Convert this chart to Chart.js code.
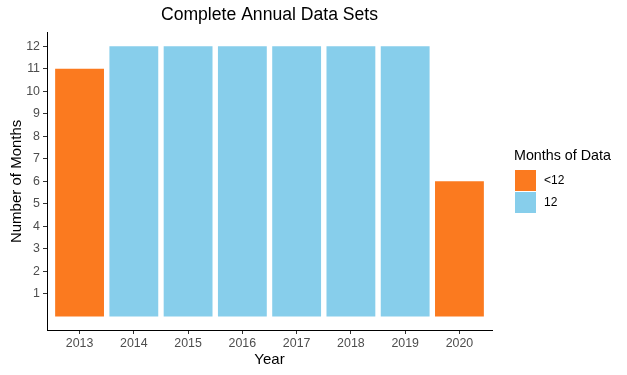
<!DOCTYPE html>
<html>
<head>
<meta charset="utf-8">
<title>Complete Annual Data Sets</title>
<script src="https://cdn.jsdelivr.net/npm/chart.js@4/dist/chart.umd.min.js"></script>
<style>
  body { margin: 0; background: #fff; }
  #wrap { width: 627px; height: 375px; position: relative; }
</style>
</head>
<body>
<div id="wrap"><canvas id="chart"></canvas></div>
<script>
// veriler
const years = ['2013', '2014', '2015', '2016', '2017', '2018', '2019', '2020'];
const months = [11, 12, 12, 12, 12, 12, 12, 6];
const yTicks = [1, 2, 3, 4, 5, 6, 7, 8, 9, 10, 11, 12];
const groups = ['<12', '12'];
const groupColors = ['#FB7A1F', '#87CEEB'];

const FONT = "'Liberation Sans', Arial, sans-serif";

// her grup için {x, y} noktaları
function groupData(g) {
    const out = [];
    years.forEach(function (y, i) {
        const key = months[i] < 12 ? '<12' : '12';
        if (key === g) out.push({ x: i + 1, y: months[i] });
    });
    return out;
}

// ggplot tarzı sağdaki lejant
const sideLegend = {
    id: 'sideLegend',
    afterDraw(chart) {
        const ctx = chart.ctx;
        ctx.save();
        ctx.fillStyle = '#000';
        ctx.font = '14.3px ' + FONT;
        ctx.textBaseline = 'middle';
        ctx.textAlign = 'left';
        ctx.fillText('Months of Data', 514, 156);
        chart.data.datasets.forEach(function (ds, i) {
            const top = 170 + i * 22;
            ctx.fillStyle = ds.backgroundColor;
            ctx.fillRect(515, top, 21, 21);
            ctx.fillStyle = '#000';
            ctx.font = '12px ' + FONT;
            ctx.fillText(ds.label, 544, top + 11);
        });
        ctx.restore();
    }
};

new Chart(document.getElementById('chart'), {
    type: 'bar',
    data: {
        datasets: groups.map(function (g, i) {
            return {
                label: g,
                data: groupData(g),
                backgroundColor: groupColors[i],
                grouped: false,
                categoryPercentage: 0.9,
                barPercentage: 1
            };
        })
    },
    options: {
        responsive: true,
        maintainAspectRatio: false,
        devicePixelRatio: 1,
        animation: false,
        layout: { padding: { right: 135, left: 0, top: 0, bottom: 0 } },
        plugins: {
            legend: { display: false },
            tooltip: { enabled: false },
            title: {
                display: true,
                text: 'Complete Annual Data Sets',
                color: '#000',
                fullSize: false,
                font: { family: FONT, size: 17.6, weight: 'normal' },
                padding: { top: 5, bottom: 6.6 }
            }
        },
        scales: {
            x: {
                type: 'linear',
                offset: false,
                min: 0.4,
                max: 8.6,
                afterBuildTicks: function (scale) {
                    scale.ticks = years.map(function (y, i) { return { value: i + 1 }; });
                },
                afterFit: function (scale) { scale.height = 45; },
                ticks: {
                    autoSkip: false,
                    maxRotation: 0,
                    color: '#4D4D4D',
                    padding: 2,
                    font: { family: FONT, size: 12.4 },
                    callback: function (v) { return years[v - 1]; }
                },
                grid: { offset: false, drawOnChartArea: false, drawTicks: true, tickLength: 4, color: '#333' },
                border: { display: true, color: '#000', width: 1 },
                title: {
                    display: true,
                    text: 'Year',
                    color: '#000',
                    font: { family: FONT, size: 15 },
                    padding: { top: 0, bottom: 6 }
                }
            },
            y: {
                min: -0.6,
                max: 12.6,
                afterBuildTicks: function (scale) {
                    scale.ticks = yTicks.map(function (v) { return { value: v }; });
                },
                afterFit: function (scale) { scale.width = 47; },
                ticks: {
                    color: '#4D4D4D',
                    padding: 3,
                    font: { family: FONT, size: 12.4 }
                },
                grid: { drawOnChartArea: false, drawTicks: true, tickLength: 4, color: '#333' },
                border: { display: true, color: '#000', width: 1 },
                title: {
                    display: true,
                    text: 'Number of Months',
                    color: '#000',
                    font: { family: FONT, size: 15 },
                    padding: { top: 7.5, bottom: 0 }
                }
            }
        }
    },
    plugins: [sideLegend]
});
</script>
</body>
</html>
